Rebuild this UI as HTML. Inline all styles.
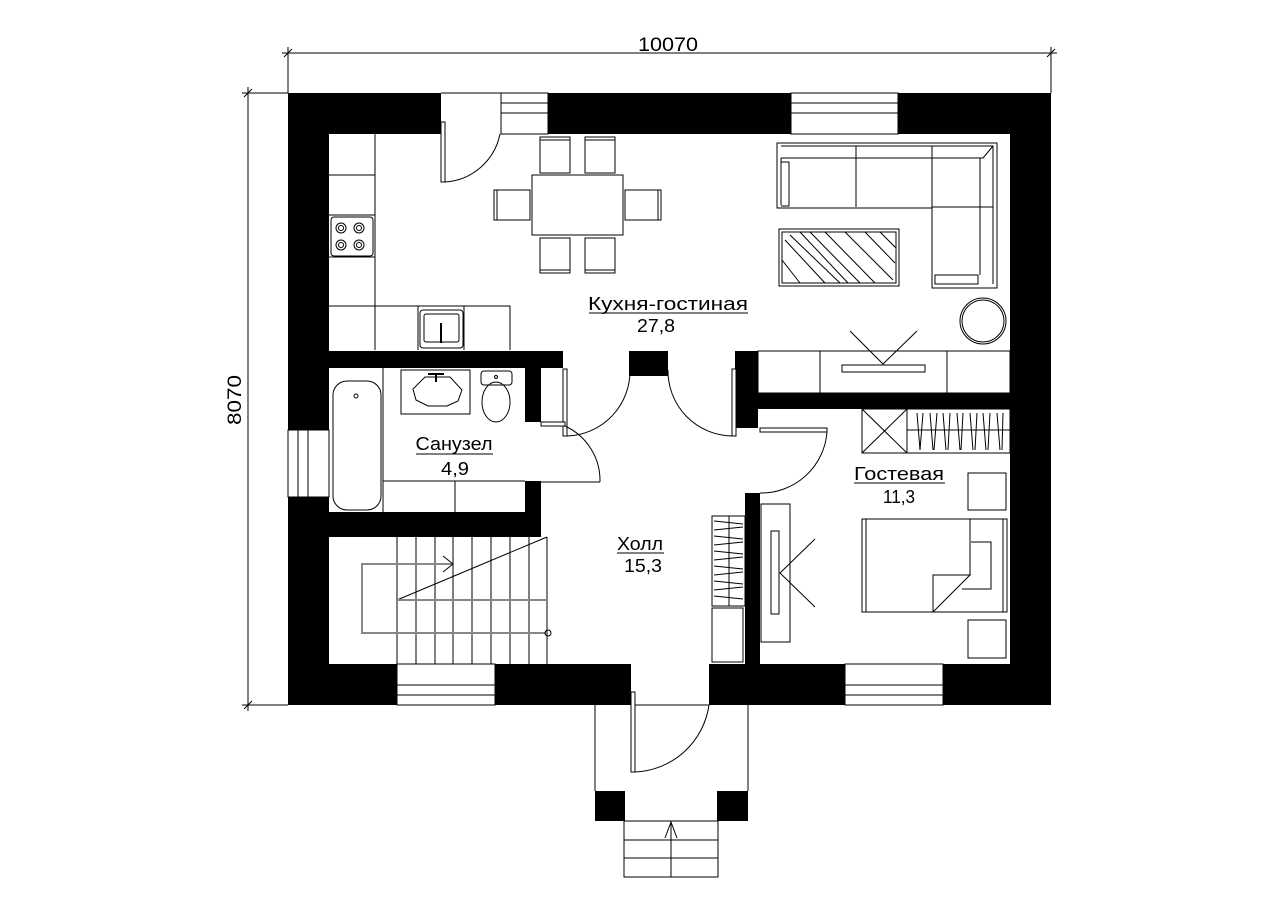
<!DOCTYPE html>
<html><head><meta charset="utf-8"><style>
html,body{margin:0;padding:0;background:#fff;}
svg{display:block;}
text{font-family:"Liberation Sans","DejaVu Sans",sans-serif;fill:#000;}
</style></head><body>
<svg width="1287" height="904" viewBox="0 0 1287 904" xmlns="http://www.w3.org/2000/svg">
<rect width="1287" height="904" fill="#fff"/>
<!-- dimensions -->
<g stroke="#000" stroke-width="1" fill="none">
<line x1="282" y1="53" x2="1057" y2="53"/>
<line x1="288" y1="47" x2="288" y2="93"/><line x1="1051" y1="47" x2="1051" y2="93"/>
<line x1="284" y1="57" x2="292" y2="49"/><line x1="1047" y1="57" x2="1055" y2="49"/>
<line x1="248" y1="87" x2="248" y2="711"/>
<line x1="242" y1="93" x2="288" y2="93"/><line x1="242" y1="705" x2="288" y2="705"/>
<line x1="244" y1="97" x2="252" y2="89"/><line x1="244" y1="709" x2="252" y2="701"/>
</g>
<text x="668" y="51" font-size="19" text-anchor="middle" textLength="60" lengthAdjust="spacingAndGlyphs">10070</text>
<text transform="translate(241,400) rotate(-90)" font-size="19" text-anchor="middle" textLength="50" lengthAdjust="spacingAndGlyphs">8070</text>

<!-- outer walls -->
<g fill="#000">
<rect x="288" y="93" width="153" height="41"/>
<rect x="548" y="93" width="243" height="41"/>
<rect x="898" y="93" width="153" height="41"/>
<rect x="288" y="93" width="41" height="337"/>
<rect x="288" y="497" width="41" height="208"/>
<rect x="1010" y="93" width="41" height="612"/>
<rect x="288" y="664" width="109" height="41"/>
<rect x="495" y="664" width="136" height="41"/>
<rect x="709" y="664" width="136" height="41"/>
<rect x="943" y="664" width="108" height="41"/>
<!-- interior walls -->
<rect x="329" y="351" width="234" height="17"/>
<rect x="629" y="351" width="39" height="25"/>
<rect x="735" y="351" width="23" height="77"/>
<rect x="745" y="393" width="265" height="16"/>
<rect x="525" y="368" width="16" height="54"/>
<rect x="525" y="481" width="16" height="56"/>
<rect x="329" y="512" width="212" height="25"/>
<rect x="745" y="493" width="15" height="171"/>
<rect x="595" y="791" width="30" height="30"/>
<rect x="717" y="791" width="31" height="30"/>
</g>
<!-- windows -->
<g stroke="#000" stroke-width="1" fill="none">
<rect x="501" y="93" width="47" height="41"/><line x1="501" y1="103" x2="548" y2="103"/><line x1="501" y1="113" x2="548" y2="113"/>
<rect x="791" y="93" width="107" height="41"/><line x1="791" y1="103" x2="898" y2="103"/><line x1="791" y1="113" x2="898" y2="113"/>
<rect x="288" y="430" width="41" height="67"/><line x1="298" y1="430" x2="298" y2="497"/><line x1="308" y1="430" x2="308" y2="497"/>
<rect x="397" y="664" width="98" height="41"/><line x1="397" y1="685" x2="495" y2="685"/><line x1="397" y1="695" x2="495" y2="695"/>
<rect x="845" y="664" width="98" height="41"/><line x1="845" y1="685" x2="943" y2="685"/><line x1="845" y1="695" x2="943" y2="695"/>
<line x1="441" y1="93" x2="501" y2="93"/>
<line x1="631" y1="705" x2="709" y2="705"/>
</g>
<!-- doors -->
<g stroke="#000" stroke-width="1" fill="#fff">
<rect x="441" y="122" width="4" height="60"/><path d="M445 182 A60 60 0 0 0 500 134" fill="none"/>
<rect x="563" y="369" width="4" height="67"/><path d="M567 436 A65 65 0 0 0 630 370" fill="none"/>
<rect x="732" y="369" width="4" height="67"/><path d="M732 436 A65 65 0 0 1 668 370" fill="none"/>
<rect x="541" y="422" width="24" height="4"/><path d="M565 426 A60 60 0 0 1 600 482" fill="none"/><line x1="541" y1="482" x2="600" y2="482"/>
<rect x="760" y="428" width="67" height="4"/><path d="M827 432 A66 66 0 0 1 760 493" fill="none"/>
<rect x="631" y="692" width="4" height="80"/><path d="M635 772 A78 78 0 0 0 709 705" fill="none"/>
<!-- porch -->
<path d="M595 705 V791 M748 705 V791 M625 821 H717" fill="none"/>
<rect x="624" y="821" width="94" height="56" fill="none"/>
<path d="M624 840 H718 M624 858 H718 M671 821 V877" fill="none"/>
<path d="M665 838 L671 822 L677 838" fill="none"/>
</g>
<!-- kitchen -->
<g stroke="#000" stroke-width="1" fill="none">
<path d="M375 134 V350 M329 175 H375 M329 215 H375 M329 257 H375 M329 306 H510 V350 M418 306 V350 M464 306 V350"/>
<rect x="331" y="217" width="42" height="39" rx="3"/>
<circle cx="341" cy="228" r="5"/><circle cx="341" cy="228" r="2.5"/>
<circle cx="359" cy="228" r="5"/><circle cx="359" cy="228" r="2.5"/>
<circle cx="341" cy="245" r="5"/><circle cx="341" cy="245" r="2.5"/>
<circle cx="359" cy="245" r="5"/><circle cx="359" cy="245" r="2.5"/>
<rect x="420" y="310" width="43" height="38" rx="3"/><rect x="424" y="314" width="35" height="28" rx="2"/>
<line x1="441" y1="323" x2="441" y2="343" stroke-width="2"/>
<!-- dining -->
<rect x="532" y="175" width="91" height="60"/>
<rect x="540" y="137" width="30" height="36"/><rect x="585" y="137" width="30" height="36"/>
<rect x="540" y="238" width="30" height="35"/><rect x="585" y="238" width="30" height="35"/>
<rect x="494" y="190" width="36" height="30"/><rect x="625" y="190" width="36" height="30"/>
<line x1="497" y1="190" x2="497" y2="220"/><line x1="658" y1="190" x2="658" y2="220"/>
<line x1="540" y1="140" x2="570" y2="140"/><line x1="585" y1="140" x2="615" y2="140"/>
<line x1="540" y1="270" x2="570" y2="270"/><line x1="585" y1="270" x2="615" y2="270"/>
<!-- sofa -->
<path d="M777 143 H997 V288 H932 V208 H777 Z"/>
<path d="M781 146 H993 V284 M781 158 H983 L993 146 M781 158 V205 M781 162 H789 V206 H781 M856 146 V207 M932 146 V275 M932 207 H993 M980 158 V275 M935 275 H978 V284 H935 Z"/>
<!-- coffee table -->
<rect x="779" y="229" width="120" height="57"/><rect x="782" y="232" width="114" height="51"/>
<path d="M785 240 L825 283 M790 235 L840 283 M810 232 L860 283 M825 232 L875 283 M845 232 L893 280 M865 232 L895 263 M880 232 L896 248 M782 260 L800 283 M800 232 L848 283"/>
<circle cx="983" cy="321" r="23"/><circle cx="983" cy="321" r="21"/>
<!-- tv unit -->
<rect x="758" y="351" width="252" height="42"/>
<path d="M820 351 V393 M947 351 V393"/>
<rect x="842" y="365" width="83" height="7"/>
<path d="M850 331 L883 364 L917 331"/>
</g>
<!-- bathroom -->
<g stroke="#000" stroke-width="1" fill="none">
<path d="M383 368 V512 M383 481 H525 M455 481 V512"/>
<rect x="333" y="381" width="48" height="129" rx="14"/>
<circle cx="356" cy="396" r="2"/>
<rect x="401" y="370" width="69" height="44"/>
<polygon points="425,377 450,377 462,390 458,401 447,406 428,406 416,400 413,389"/>
<line x1="436" y1="373" x2="436" y2="382" stroke-width="2"/><line x1="428" y1="374" x2="444" y2="374" stroke-width="2"/>
<rect x="481" y="371" width="31" height="14" rx="3"/><circle cx="496" cy="377" r="1.5"/>
<ellipse cx="496" cy="402" rx="14" ry="20"/>
</g>
<!-- stairs -->
<g stroke="#000" stroke-width="1" fill="none">
<path d="M397 537 V664 M416 537 V664 M435 537 V664 M453 537 V664 M472 537 V664 M491 537 V664 M510 537 V664 M529 537 V664 M547 537 V664"/>
<line x1="397" y1="600" x2="547" y2="537"/>
<line x1="397" y1="600" x2="547" y2="600" stroke="#888" stroke-width="2"/>
<path d="M453 564 H362 V633 H547" stroke="#888" stroke-width="2"/>
<path d="M443 556 L453 564 L443 572"/>
<circle cx="548" cy="633" r="3"/>
</g>
<!-- hall wardrobe -->
<g stroke="#000" stroke-width="1" fill="none">
<rect x="712" y="516" width="33" height="90"/>
<line x1="729" y1="516" x2="729" y2="606"/>
<path d="M714 521 L743 524 M714 530 L743 527 M714 536 L743 539 M714 545 L743 542 M714 551 L743 554 M714 560 L743 557 M714 566 L743 569 M714 575 L743 572 M714 581 L743 584 M714 590 L743 587 M714 596 L743 599"/>
<rect x="712" y="608" width="31" height="54"/>
</g>
<!-- guest room -->
<g stroke="#000" stroke-width="1" fill="none">
<rect x="862" y="409" width="148" height="44"/>
<path d="M907 409 V453 M862 409 L907 453 M907 409 L862 453 M907 430 H1010"/>
<path d="M917 413 L920 450 M923 413 L920 450 M930 413 L933 450 M937 413 L934 450 M943 413 L946 450 M950 413 L948 450 M957 413 L960 450 M963 413 L961 450 M970 413 L973 450 M977 413 L975 450 M983 413 L986 450 M990 413 L988 450 M997 413 L1000 450 M1003 413 L1002 450"/>
<rect x="968" y="473" width="38" height="37"/>
<rect x="968" y="620" width="38" height="38"/>
<rect x="862" y="519" width="145" height="93"/>
<path d="M866 519 V612 M1003 519 V612 M970 519 V575 M971 542 H991 V589 H962"/>
<path d="M933 612 V575 H970 L933 612"/>
<rect x="761" y="504" width="29" height="138"/>
<rect x="771" y="531" width="8" height="83"/>
<path d="M815 539 L780 573 L815 607"/>
</g>
<!-- labels -->
<g font-size="18">
<text x="668" y="310" text-anchor="middle" textLength="160" lengthAdjust="spacingAndGlyphs">Кухня-гостиная</text>
<line x1="589" y1="313" x2="748" y2="313" stroke="#000"/>
<text x="656" y="332" text-anchor="middle" textLength="38" lengthAdjust="spacingAndGlyphs">27,8</text>
<text x="454" y="450" text-anchor="middle" textLength="77" lengthAdjust="spacingAndGlyphs">Санузел</text>
<line x1="416" y1="454" x2="493" y2="454" stroke="#000"/>
<text x="455" y="475" text-anchor="middle" textLength="28" lengthAdjust="spacingAndGlyphs">4,9</text>
<text x="640" y="550" text-anchor="middle" textLength="46" lengthAdjust="spacingAndGlyphs">Холл</text>
<line x1="617" y1="553" x2="664" y2="553" stroke="#000"/>
<text x="643" y="572" text-anchor="middle" textLength="38" lengthAdjust="spacingAndGlyphs">15,3</text>
<text x="899" y="480" text-anchor="middle" textLength="90" lengthAdjust="spacingAndGlyphs">Гостевая</text>
<line x1="854" y1="483" x2="945" y2="483" stroke="#000"/>
<text x="899" y="503" text-anchor="middle" textLength="32" lengthAdjust="spacingAndGlyphs">11,3</text>
</g>
</svg>
</body></html>
